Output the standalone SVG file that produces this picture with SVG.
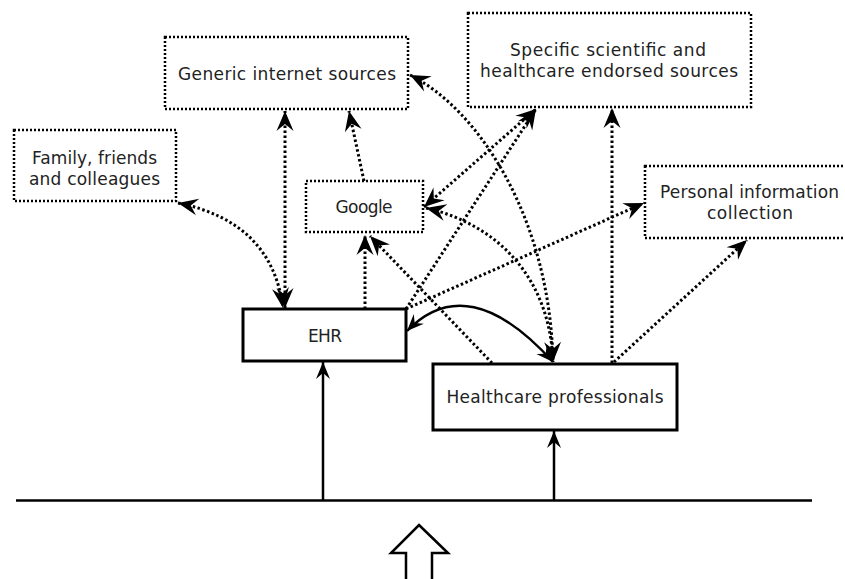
<svg xmlns="http://www.w3.org/2000/svg" width="845" height="579" viewBox="0 0 845 579">
<style>
.bd{fill:#fff;stroke:#000;stroke-width:2.5;stroke-dasharray:2 2}
.bs{fill:#fff;stroke:#000;stroke-width:3}
.dot{fill:none;stroke:#000;stroke-width:3;stroke-dasharray:2.5 2.5}
.sol{fill:none;stroke:#000;stroke-width:2.5}
.t{font-family:"DejaVu Sans","Liberation Sans",sans-serif;font-size:17px;fill:#222;text-anchor:middle}
</style>
<defs>
<marker id="ad" viewBox="-21 -9 22 18" refX="0" refY="0" markerWidth="22" markerHeight="18" markerUnits="userSpaceOnUse" orient="auto-start-reverse">
<path d="M0,0 L-20,-8.5 L-13,0 L-20,8.5 Z" fill="#000" stroke="none"/>
</marker>
<marker id="as" viewBox="-18 -8 19 16" refX="0" refY="0" markerWidth="19" markerHeight="16" markerUnits="userSpaceOnUse" orient="auto-start-reverse">
<path d="M0,0 L-17,-7 L-11,0 L-17,7 Z" fill="#000" stroke="none"/>
</marker>
</defs>
<rect width="845" height="579" fill="#fff"/>
<g id="generic"><rect class="bd" x="165" y="37" width="243" height="72"/><text class="t" x="287" y="80" textLength="218" lengthAdjust="spacing">Generic internet sources</text></g>
<g id="specific"><rect class="bd" x="468" y="13" width="283" height="94"/><text class="t" x="608" y="56" textLength="196" lengthAdjust="spacing">Specific scientific and</text><text class="t" x="609" y="77" textLength="258" lengthAdjust="spacing">healthcare endorsed sources</text></g>
<g id="family"><rect class="bd" x="14" y="130" width="162" height="71"/><text class="t" x="94.5" y="164" textLength="125" lengthAdjust="spacing">Family, friends</text><text class="t" x="94.5" y="185" textLength="131" lengthAdjust="spacing">and colleagues</text></g>
<g id="google"><rect class="bd" x="306" y="181" width="117" height="51"/><text class="t" x="364" y="212.5" textLength="57" lengthAdjust="spacing">Google</text></g>
<g id="personal"><rect class="bd" x="645" y="166" width="215" height="72"/><text class="t" x="749.5" y="198" textLength="179" lengthAdjust="spacing">Personal information</text><text class="t" x="750" y="219" textLength="86" lengthAdjust="spacing">collection</text></g>
<g id="ehr"><rect class="bs" x="243" y="309" width="163" height="52"/><text class="t" x="325" y="341.5" textLength="34" lengthAdjust="spacing">EHR</text></g>
<g id="hcp"><rect class="bs" x="433" y="364" width="244" height="66"/><text class="t" x="555" y="403" textLength="217" lengthAdjust="spacing">Healthcare professionals</text></g>
<g id="connectors">
<path class="dot" d="M285,308 L285,111" marker-start="url(#ad)" marker-end="url(#ad)"/>
<path class="dot" d="M178,203 Q272,222 283,308" marker-start="url(#ad)" marker-end="url(#ad)"/>
<path class="dot" d="M364,181 L349,111" marker-end="url(#ad)"/>
<path class="dot" d="M365,309 L365,235" marker-end="url(#ad)"/>
<path class="dot" d="M492,363 L370,236" marker-end="url(#ad)"/>
<path class="dot" d="M406,309 L536,109" marker-end="url(#ad)"/>
<path class="dot" d="M406,309 L644,203" marker-end="url(#ad)"/>
<path class="dot" d="M424,207 L536,109" marker-start="url(#ad)" marker-end="url(#ad)"/>
<path class="dot" d="M410,75 C480,110 550,220 553,362" marker-start="url(#ad)" marker-end="url(#ad)"/>
<path class="dot" d="M426,208 C500,225 550,280 553,362" marker-start="url(#ad)"/>
<path class="dot" d="M612,363 L612,108" marker-end="url(#ad)"/>
<path class="dot" d="M614,362 L747,240" marker-end="url(#ad)"/>
<path class="sol" d="M407,331 Q468,268 553,362" marker-start="url(#as)" marker-end="url(#as)"/>
<path class="sol" d="M16,500.5 L812,500.5" stroke-width="3"/>
<path class="sol" d="M323,500 L323,362" marker-end="url(#as)"/>
<path class="sol" d="M554,500 L554,431" marker-end="url(#as)"/>
</g>
<polygon points="419,525 448,553 432,553 432,582 406,582 406,553 391,553" fill="#fff" stroke="#000" stroke-width="2.5"/>
</svg>
